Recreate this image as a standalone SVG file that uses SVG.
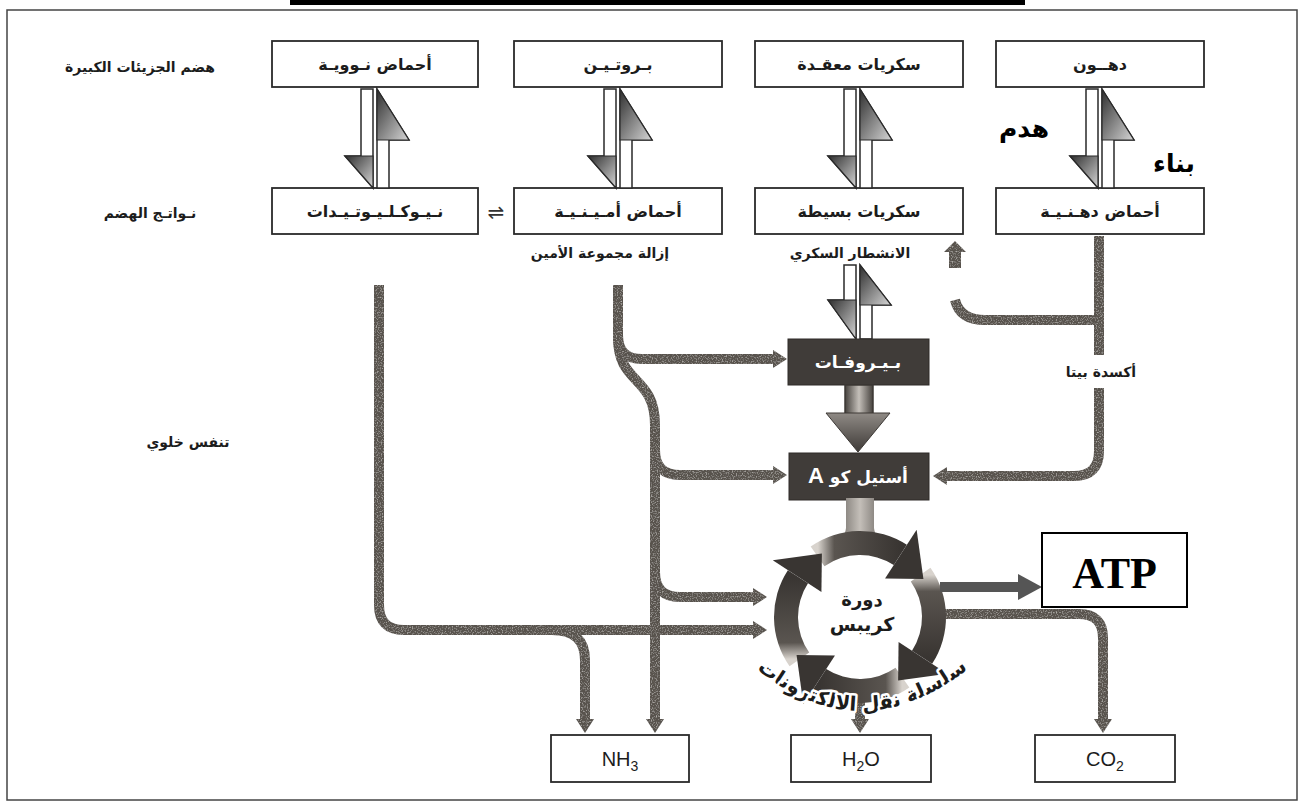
<svg xmlns="http://www.w3.org/2000/svg" width="1303" height="805" viewBox="0 0 1303 805">
<defs>
<style>
  .ar { font-family: "DejaVu Sans", "Noto Sans", sans-serif; font-weight: bold; fill: #1c1c1c; }
  .lbl { font-size: 14px; text-anchor: middle; direction: rtl; }
  .bx { fill: #fff; stroke: #2a2a2a; stroke-width: 1.8; }
  .bt { font-size: 16px; text-anchor: middle; direction: rtl; }
  .dk { fill: #403c39; stroke: #2e2b28; stroke-width: 1; }
  .dt { fill: #fff; font-size: 17px; text-anchor: middle; direction: rtl; }
  .conn { fill: none; stroke: #58534e; stroke-width: 10; }
  .sh { fill: #fff; stroke: #2a2a2a; stroke-width: 1.5; }
  .lat { font-family: "Liberation Sans", Arial, sans-serif; fill: #1c1c1c; }
  .big { font-size: 25px; text-anchor: middle; fill: #000; }
  .rh { fill: #393532; }
</style>
<linearGradient id="hg" x1="0" y1="0" x2="1" y2="1">
  <stop offset="0" stop-color="#2e2e2e"/>
  <stop offset="1" stop-color="#d6d6d6"/>
</linearGradient>
<linearGradient id="stemG" x1="0" y1="0" x2="1" y2="0">
  <stop offset="0" stop-color="#45413d"/>
  <stop offset="0.5" stop-color="#c4bfb9"/>
  <stop offset="1" stop-color="#45413d"/>
</linearGradient>
<linearGradient id="headG" x1="0" y1="0" x2="0" y2="1">
  <stop offset="0" stop-color="#8f8a85"/>
  <stop offset="1" stop-color="#3e3a37"/>
</linearGradient>
<linearGradient id="r0" gradientUnits="userSpaceOnUse" x1="799" y1="659" x2="798" y2="577">
  <stop offset="0" stop-color="#d8d3cd"/><stop offset="0.2" stop-color="#5a5550"/><stop offset="1" stop-color="#393532"/>
</linearGradient>
<linearGradient id="r1" gradientUnits="userSpaceOnUse" x1="818" y1="556" x2="900" y2="555">
  <stop offset="0" stop-color="#d8d3cd"/><stop offset="0.2" stop-color="#5a5550"/><stop offset="1" stop-color="#393532"/>
</linearGradient>
<linearGradient id="r2" gradientUnits="userSpaceOnUse" x1="921" y1="575" x2="922" y2="657">
  <stop offset="0" stop-color="#d8d3cd"/><stop offset="0.2" stop-color="#5a5550"/><stop offset="1" stop-color="#393532"/>
</linearGradient>
<linearGradient id="r3" gradientUnits="userSpaceOnUse" x1="902" y1="678" x2="820" y2="679">
  <stop offset="0" stop-color="#d8d3cd"/><stop offset="0.2" stop-color="#5a5550"/><stop offset="1" stop-color="#393532"/>
</linearGradient>
<filter id="grain" x="-5%" y="-5%" width="110%" height="110%">
  <feTurbulence type="fractalNoise" baseFrequency="0.8" numOctaves="1" seed="7" result="noise"/>
  <feColorMatrix in="noise" type="matrix" values="0 0 0 0 0.78  0 0 0 0 0.76  0 0 0 0 0.73  1.6 0 0 0 -0.8" result="specks"/>
  <feComposite in="specks" in2="SourceAlpha" operator="in" result="sp"/>
  <feMerge><feMergeNode in="SourceGraphic"/><feMergeNode in="sp"/></feMerge>
</filter>
<marker id="ah" markerUnits="userSpaceOnUse" markerWidth="14" markerHeight="18" refX="0" refY="9" orient="auto" viewBox="0 0 14 18">
  <path d="M0,0 L14,9 L0,18 Z" fill="#58534e"/>
</marker>
<!-- hollow down/up half-arrow pair between two boxes of a column -->
<g id="dbl">
  <path class="sh" d="M-14,0 V67 H-30 L-2,99 V0 Z"/>
  <path fill="url(#hg)" stroke="#2a2a2a" stroke-width="1.2" d="M-30,67 L-2,99 V67 Z"/>
  <path class="sh" d="M14,99 V51 H34 L2,0 V99 Z"/>
  <path fill="url(#hg)" stroke="#2a2a2a" stroke-width="1.2" d="M2,0 L34,51 H2 Z"/>
</g>
</defs>

<rect width="1303" height="805" fill="#fff"/>
<rect x="290" y="0" width="735" height="5" fill="#000"/>
<rect x="7" y="10" width="1290" height="790" fill="none" stroke="#444" stroke-width="1.5"/>

<!-- row labels -->
<g id="row-labels">
  <text class="ar lbl" x="140" y="72">هضم الجزيئات الكبيرة</text>
  <text class="ar lbl" x="150" y="218">نـواتـج الهضم</text>
  <text class="ar lbl" x="188" y="447" font-size="15">تنفس خلوي</text>
</g>

<!-- macromolecules -->
<g id="n-nucleic"><rect class="bx" x="272" y="41" width="206" height="46"/><text class="ar bt" x="375" y="70">أحماض نـوويـة</text></g>
<g id="n-protein"><rect class="bx" x="514" y="41" width="208" height="46"/><text class="ar bt" x="618" y="70">بـروتـيـن</text></g>
<g id="n-complex-sugar"><rect class="bx" x="755" y="41" width="208" height="46"/><text class="ar bt" x="859" y="70">سكريات معقـدة</text></g>
<g id="n-fat"><rect class="bx" x="996" y="41" width="208" height="46"/><text class="ar bt" x="1100" y="70">دهــون</text></g>

<!-- digestion products -->
<g id="n-nucleotides"><rect class="bx" x="272" y="188" width="206" height="46"/><text class="ar bt" x="375" y="217">نـيـوكـلـيـوتـيـدات</text></g>
<g id="n-amino"><rect class="bx" x="514" y="188" width="208" height="46"/><text class="ar bt" x="618" y="217">أحماض أمـيـنـيـة</text></g>
<g id="n-simple-sugar"><rect class="bx" x="755" y="188" width="208" height="46"/><text class="ar bt" x="859" y="217">سكريات بسيطة</text></g>
<g id="n-fatty-acids"><rect class="bx" x="996" y="188" width="208" height="46"/><text class="ar bt" x="1100" y="217">أحماض دهـنـيـة</text></g>

<text x="496" y="219" font-family="DejaVu Sans, sans-serif" font-size="20" fill="#333" text-anchor="middle">⇌</text>

<!-- breakdown / synthesis arrow pairs -->
<g id="pairs">
  <use href="#dbl" transform="translate(375,89)"/>
  <use href="#dbl" transform="translate(618,89)"/>
  <use href="#dbl" transform="translate(858,89)"/>
  <use href="#dbl" transform="translate(1100,89)"/>
  <!-- simple sugar to pyruvate -->
  <path class="sh" d="M844,265 V300 H828 L856,339 V265 Z"/>
  <path fill="url(#hg)" stroke="#2a2a2a" stroke-width="1.2" d="M828,300 L856,339 V300 Z"/>
  <path class="sh" d="M872,339 V305 H891 L860,265 V339 Z"/>
  <path fill="url(#hg)" stroke="#2a2a2a" stroke-width="1.2" d="M860,265 L891,305 H860 Z"/>
</g>

<g id="lbl-hadm"><text class="ar big" x="1024" y="137">هدم</text></g>
<g id="lbl-binaa"><text class="ar big" x="1174" y="172" font-size="26">بناء</text></g>

<text class="ar lbl" x="600" y="258">إزالة مجموعة الأمين</text>
<text class="ar lbl" x="850" y="258">الانشطار السكري</text>
<text class="ar lbl" x="1101" y="377">أكسدة بيتا</text>

<!-- connectors -->
<g id="connectors" filter="url(#grain)">
  <path class="conn" marker-end="url(#ah)" d="M379,285 V605 Q379,630 404,630 H753"/>
  <path class="conn" marker-end="url(#ah)" d="M552,630 Q585,630 585,660 V719"/>
  <path class="conn" marker-end="url(#ah)" d="M618,285 V338 C618,385 655,375 655,425 V719"/>
  <path class="conn" marker-end="url(#ah)" d="M618,335 Q618,359 642,359 H773"/>
  <path class="conn" marker-end="url(#ah)" d="M655,450 Q655,475 680,475 H773"/>
  <path class="conn" marker-end="url(#ah)" d="M655,572 Q655,597 680,597 H753"/>
  <path class="conn" d="M1099,236 V355"/>
  <path class="conn" marker-end="url(#ah)" d="M1099,388 V451 Q1099,476 1074,476 H947"/>
  <path class="conn" d="M1099,320 H985 Q960,320 955,300"/>
  <path d="M949,268 V252 H944 L955,241 L966,252 H961 V268 Z" fill="#58534e"/>
  <path class="conn" marker-end="url(#ah)" d="M944,614 H1079 Q1103,614 1103,638 V719"/>
  <path class="conn" marker-end="url(#ah)" d="M860,698 V719"/>
</g>

<!-- pyruvate -->
<g id="n-pyruvate"><rect class="dk" x="788" y="339" width="141" height="46"/><text class="ar dt" x="858" y="368">بـيـروفـات</text></g>

<!-- pyruvate to acetyl CoA -->
<g id="thick-arrow">
  <rect x="845" y="385" width="28" height="29" fill="url(#stemG)" stroke="#3c3835" stroke-width="1.5"/>
  <path d="M826,413 H890 L858,452 Z" fill="url(#headG)" stroke="#3c3835" stroke-width="1"/>
</g>

<!-- acetyl CoA -->
<g id="n-acetyl"><rect class="dk" x="789" y="453" width="140" height="47"/><text class="ar dt" x="858" y="483">أستيل كو <tspan font-family="Liberation Sans, Arial, sans-serif" font-size="22">A</tspan></text></g>

<!-- Krebs cycle: four clockwise arrow segments -->
<g id="n-krebs">
  <path d="M846,498 H874 V528 Q875,540 893,547 H827 Q845,540 846,528 Z" fill="url(#stemG)"/>
  <path fill="url(#r0)" d="M789.55,666.33 A86,86 0 0 1 787.87,570.16 L808,583.23 A62,62 0 0 0 809.21,652.56 Z"/>
  <path fill="url(#r1)" d="M810.67,546.55 A86,86 0 0 1 906.84,544.87 L893.77,565 A62,62 0 0 0 824.44,566.21 Z"/>
  <path fill="url(#r2)" d="M930.45,567.67 A86,86 0 0 1 932.13,663.84 L912,650.77 A62,62 0 0 0 910.79,581.44 Z"/>
  <path fill="url(#r3)" d="M909.33,687.45 A86,86 0 0 1 813.16,689.13 L826.23,669 A62,62 0 0 0 895.56,667.79 Z"/>
  <path class="rh" d="M821.42,591.95 L772.78,560.36 L821.89,553.57 Z"/>
  <path class="rh" d="M885.05,578.42 L916.64,529.78 L923.43,578.89 Z"/>
  <path class="rh" d="M898.58,642.05 L947.22,673.64 L898.11,680.43 Z"/>
  <path class="rh" d="M834.95,655.58 L803.36,704.22 L796.57,655.11 Z"/>
  <text class="ar" x="862" y="606" font-size="18" text-anchor="middle">دورة</text>
  <text class="ar" x="862" y="631" font-size="19" text-anchor="middle">كريبس</text>
</g>

<!-- electron transport chain label -->
<path id="etc" d="M735,650 Q860,772 990,650" fill="none"/>
<text class="ar" font-size="20" stroke="#fff" stroke-width="5" style="paint-order: stroke" stroke-linejoin="round"><textPath href="#etc" startOffset="50%" text-anchor="middle">سلسلة نقل الالكترونات</textPath></text>

<!-- ATP -->
<g id="atp-arrow">
  <path d="M940,587 H1020" stroke="#555" stroke-width="10"/>
  <path d="M1018,574 L1042,587 L1018,600 Z" fill="#555"/>
</g>
<g id="n-atp">
  <rect x="1042" y="533" width="145" height="74" fill="#fff" stroke="#000" stroke-width="2"/>
  <text x="1114.5" y="588" font-family="Liberation Serif, 'Times New Roman', serif" font-weight="bold" font-size="44" text-anchor="middle" fill="#000">ATP</text>
</g>

<!-- end products -->
<g id="n-nh3"><rect class="bx" x="551" y="735" width="138" height="47"/><text class="lat" x="620" y="766" font-size="20" text-anchor="middle">NH<tspan dy="5" font-size="14">3</tspan></text></g>
<g id="n-h2o"><rect class="bx" x="791" y="735" width="140" height="47"/><text class="lat" x="861" y="766" font-size="20" text-anchor="middle">H<tspan dy="5" font-size="14">2</tspan><tspan dy="-5">O</tspan></text></g>
<g id="n-co2"><rect class="bx" x="1035" y="735" width="140" height="47"/><text class="lat" x="1105" y="766" font-size="20" text-anchor="middle">CO<tspan dy="5" font-size="14">2</tspan></text></g>
</svg>
